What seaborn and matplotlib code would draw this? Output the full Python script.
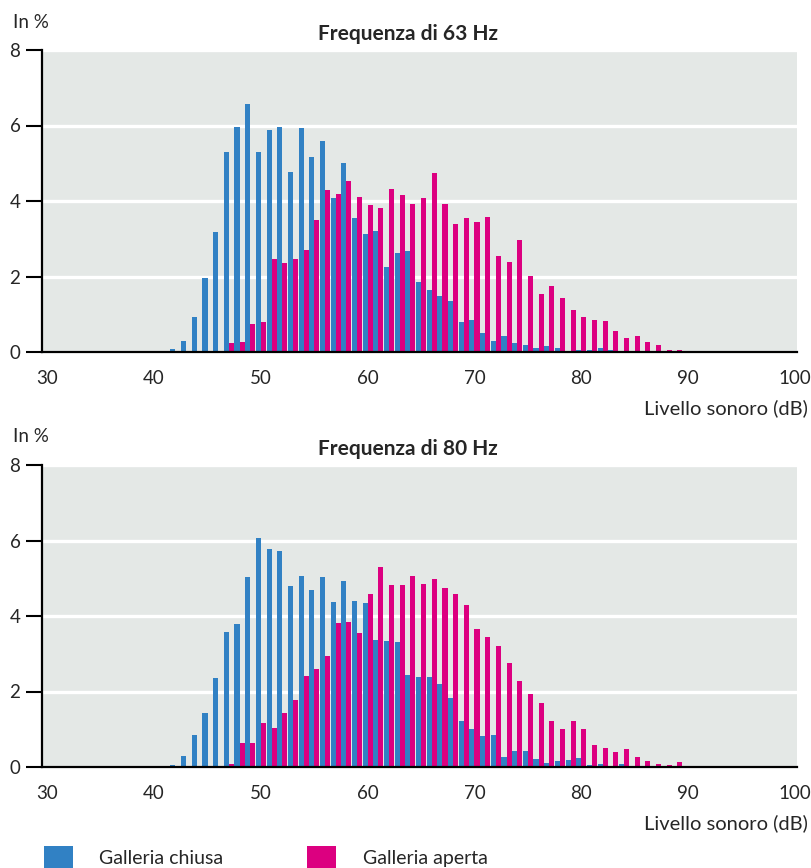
import pandas as pd
import matplotlib.pyplot as plt
import seaborn as sns
from matplotlib.patches import Patch

# Livello sonoro (dB) per ogni coppia di barre
livelli = list(range(41, 92))

# Frequenza di 63 Hz, in %
chiusa_63 = [0.03, 0.08, 0.29, 0.93, 1.96, 3.18, 5.30, 5.96, 6.57, 5.30,
             5.88, 5.96, 4.77, 5.93, 5.17, 5.59, 4.08, 5.00, 3.55, 3.13,
             3.20, 2.25, 2.62, 2.68, 1.85, 1.64, 1.48, 1.35, 0.79, 0.85,
             0.50, 0.29, 0.42, 0.24, 0.19, 0.11, 0.16, 0.11, 0.03, 0.05,
             0.05, 0.11, 0.05, 0.03, 0.03, 0, 0, 0, 0, 0, 0]
aperta_63 = [0, 0, 0, 0.03, 0, 0, 0.24, 0.27, 0.74, 0.80,
             2.46, 2.36, 2.46, 2.70, 3.50, 4.29, 4.19, 4.53, 4.11, 3.89,
             3.82, 4.32, 4.16, 3.92, 4.08, 4.74, 3.92, 3.39, 3.55, 3.44,
             3.58, 2.54, 2.38, 2.97, 2.01, 1.54, 1.75, 1.43, 1.11, 0.93,
             0.85, 0.82, 0.56, 0.37, 0.42, 0.27, 0.19, 0.05, 0.05, 0, 0.03]

# Frequenza di 80 Hz, in %
chiusa_80 = [0, 0.05, 0.29, 0.85, 1.43, 2.36, 3.58, 3.79, 5.03, 6.07,
             5.78, 5.72, 4.80, 5.06, 4.69, 5.03, 4.37, 4.93, 4.40, 4.35,
             3.36, 3.34, 3.31, 2.44, 2.38, 2.38, 2.20, 1.83, 1.22, 1.01,
             0.82, 0.85, 0.27, 0.42, 0.42, 0.21, 0.11, 0.16, 0.19, 0.24,
             0.05, 0.08, 0, 0.08, 0, 0, 0, 0.03, 0.03, 0, 0]
aperta_80 = [0, 0, 0, 0, 0, 0.03, 0.08, 0.64, 0.64, 1.17,
             1.03, 1.43, 1.78, 2.41, 2.60, 2.94, 3.81, 3.84, 3.55, 4.58,
             5.30, 4.82, 4.82, 5.06, 4.85, 4.98, 4.74, 4.58, 4.29, 3.66,
             3.44, 3.21, 2.75, 2.28, 1.93, 1.70, 1.22, 1.01, 1.22, 1.01,
             0.58, 0.50, 0.40, 0.48, 0.27, 0.16, 0.08, 0.05, 0.13, 0.03, 0]

serie = ['Galleria chiusa', 'Galleria aperta']
colori = ['#3181C4', '#DC0080']
titoli = ['Frequenza di 63 Hz', 'Frequenza di 80 Hz']
xticks = [30, 40, 50, 60, 70, 80, 90, 100]
yticks = [0, 2, 4, 6, 8]

sns.set_style('white')
plt.rcParams['font.family'] = ['Lato', 'DejaVu Sans']
plt.rcParams['font.size'] = 13.5


def to_df(chiusa, aperta):
    a = pd.DataFrame({'dB': livelli, 'pct': chiusa, 'serie': serie[0]})
    b = pd.DataFrame({'dB': livelli, 'pct': aperta, 'serie': serie[1]})
    return pd.concat([a, b], ignore_index=True)


dati = [to_df(chiusa_63, aperta_63), to_df(chiusa_80, aperta_80)]

fig = plt.figure(figsize=(8.12, 8.68), dpi=100)
H = 868
W = 812
tops = [50, 465]

for i, df in enumerate(dati):
    top = tops[i]
    ax = fig.add_axes([42 / W, 1 - (top + 302) / H, 755 / W, 302 / H])
    sns.barplot(data=df, x='dB', y='pct', hue='serie', hue_order=serie,
                palette=colori, native_scale=True, width=0.95,
                errorbar=None, linewidth=0, saturation=1, legend=False, ax=ax)
    ax.set_facecolor('#E4E8E6')
    ax.set_xlim(29.5, 100.2)
    ax.set_ylim(0, 8)
    ax.set_xticks(xticks)
    ax.set_yticks(yticks)
    ax.set_xlabel('')
    ax.set_ylabel('')
    ax.grid(axis='y', color='white', linewidth=2.4)
    ax.grid(axis='x', visible=False)
    ax.set_axisbelow(True)
    for s in ['top', 'right']:
        ax.spines[s].set_visible(False)
    for s in ['left', 'bottom']:
        ax.spines[s].set_color('black')
        ax.spines[s].set_linewidth(1.6)
    ax.tick_params(axis='y', length=11.5, width=1.5, pad=4, labelsize=13.5,
                   left=True, color='black')
    ax.tick_params(axis='x', length=0, pad=13, labelsize=13.5)

    fig.text(13 / W, 1 - (top - 28) / H, 'In %', ha='left', va='center',
             fontsize=13.5)
    fig.text(408 / W, 1 - (top - 16) / H, titoli[i], ha='center',
             va='center', fontsize=15, fontweight='bold')
    fig.text(808 / W, 1 - (top + 358) / H, 'Livello sonoro (dB)',
             ha='right', va='center', fontsize=14.5)

handles = [Patch(facecolor=c, edgecolor='none') for c in colori]
fig.legend(handles, serie, loc='center left', bbox_to_anchor=(44 / W, 1 - 858 / H),
           ncol=2, frameon=False, borderpad=0, borderaxespad=0,
           handlelength=1.5, handleheight=1.5, handletextpad=1.35,
           columnspacing=4.3, fontsize=14)

fig.savefig('out.png', dpi=100)
